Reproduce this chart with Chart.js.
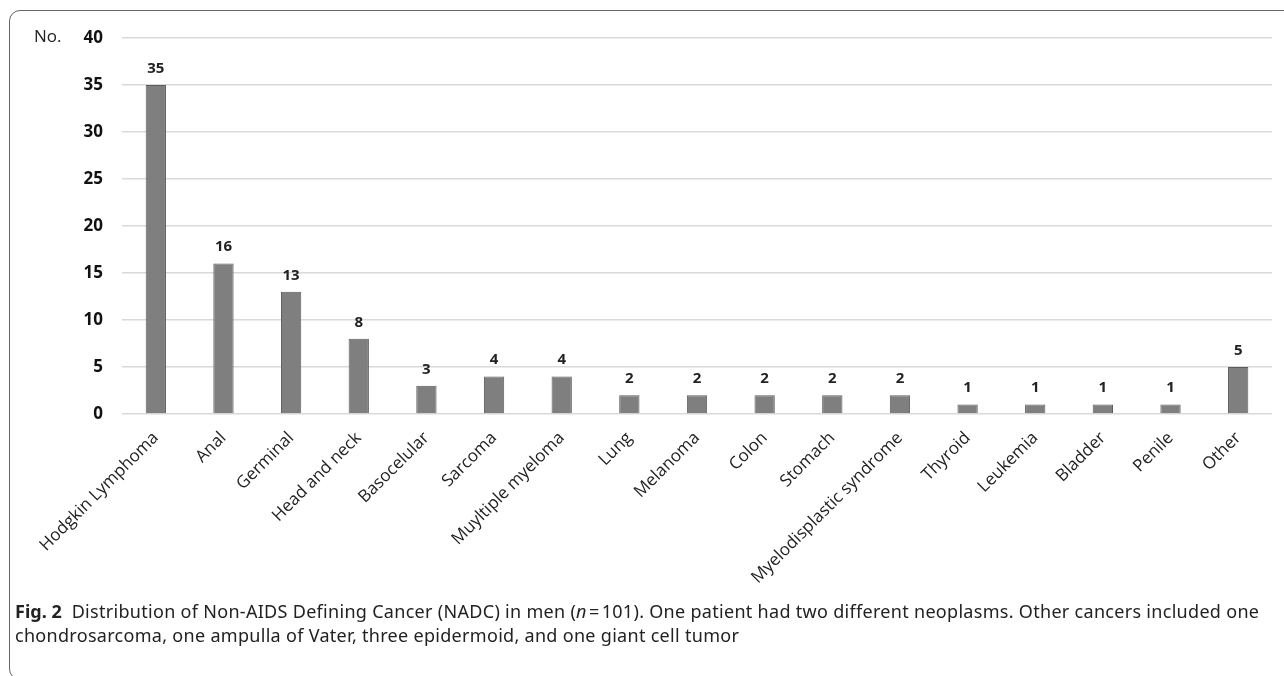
<!DOCTYPE html>
<html lang="en">
<head>
<meta charset="UTF-8">
<title>NADC in men</title>
<script src="https://cdn.jsdelivr.net/npm/chart.js"></script>
<style>
  html, body { margin: 0; padding: 0; background: #fff; overflow: hidden; }
  body { width: 1284px; height: 676px; position: relative; font-family: "Open Sans", sans-serif; }
  .frame { position: absolute; left: 9px; top: 10px; width: 1300px; height: 668px;
           border: 1.5px solid #666; border-radius: 11px; }
  #wrap { position: absolute; left: 0; top: 0; width: 1284px; height: 600px; }
  .ylab { position: absolute; left: 34px; top: 24px; font-size: 17px; color: #222; }
  .caption { position: absolute; left: 15px; top: 599px; font-family: "Noto Sans", sans-serif;
             font-size: 18px; line-height: 24px; color: #222; white-space: nowrap; letter-spacing: 0.3px; }
  .caption b { letter-spacing: 0; }
</style>
</head>
<body>
<div class="frame"></div>
<div id="wrap"><canvas id="chart" width="1284" height="600"></canvas></div>
<div class="ylab">No.</div>
<div class="caption"><b>Fig. 2</b>&nbsp; Distribution of Non-AIDS Defining Cancer (NADC) in men (<i>n</i>&#8202;=&#8202;101). One patient had two different neoplasms. Other cancers included one<br>chondrosarcoma, one ampulla of Vater, three epidermoid, and one giant cell tumor</div>

<script>
const categories = ['Hodgkin Lymphoma', 'Anal', 'Germinal', 'Head and neck', 'Basocelular', 'Sarcoma',
  'Muyltiple myeloma', 'Lung', 'Melanoma', 'Colon', 'Stomach', 'Myelodisplastic syndrome',
  'Thyroid', 'Leukemia', 'Bladder', 'Penile', 'Other'];
const counts = [35, 16, 13, 8, 3, 4, 4, 2, 2, 2, 2, 2, 1, 1, 1, 1, 5];
const yMax = 40;
const yStep = 5;

// value labels above each bar
const barLabels = {
  id: 'barLabels',
  afterDatasetsDraw(chart) {
    const ctx = chart.ctx;
    const meta = chart.getDatasetMeta(0);
    ctx.save();
    ctx.font = 'bold 15px "Open Sans", sans-serif';
    ctx.fillStyle = '#222';
    ctx.textAlign = 'center';
    ctx.textBaseline = 'bottom';
    meta.data.forEach((bar, i) => {
      ctx.fillText(counts[i], bar.x, bar.y - 9);
    });
    ctx.restore();
  }
};

new Chart(document.getElementById('chart'), {
  type: 'bar',
  data: {
    labels: categories,
    datasets: [{
      data: counts,
      backgroundColor: '#7f7f7f',
      borderColor: '#5c5c5c',
      borderWidth: 1,
      barPercentage: 0.6,
      categoryPercentage: 0.5
    }]
  },
  options: {
    responsive: false,
    animation: false,
    layout: { padding: { left: 0, right: 12, top: 38, bottom: 0 } },
    plugins: { legend: { display: false }, tooltip: { enabled: false } },
    scales: {
      x: {
        grid: { display: false },
        border: { display: false },
        ticks: {
          minRotation: 45, maxRotation: 45, autoSkip: false, padding: 6,
          color: '#222', font: { family: '"Open Sans", sans-serif', size: 17 }
        },
        afterFit(axis) { axis.height = 186; }
      },
      y: {
        min: 0, max: yMax,
        grid: { color: '#d9d9d9', lineWidth: 1.5, drawTicks: false },
        border: { display: false },
        ticks: {
          stepSize: yStep, padding: 19, color: '#111',
          font: { family: '"Open Sans", sans-serif', size: 17, weight: 'bold' }
        },
        afterFit(axis) { axis.width = 122; }
      }
    }
  },
  plugins: [barLabels]
});
</script>
</body>
</html>
